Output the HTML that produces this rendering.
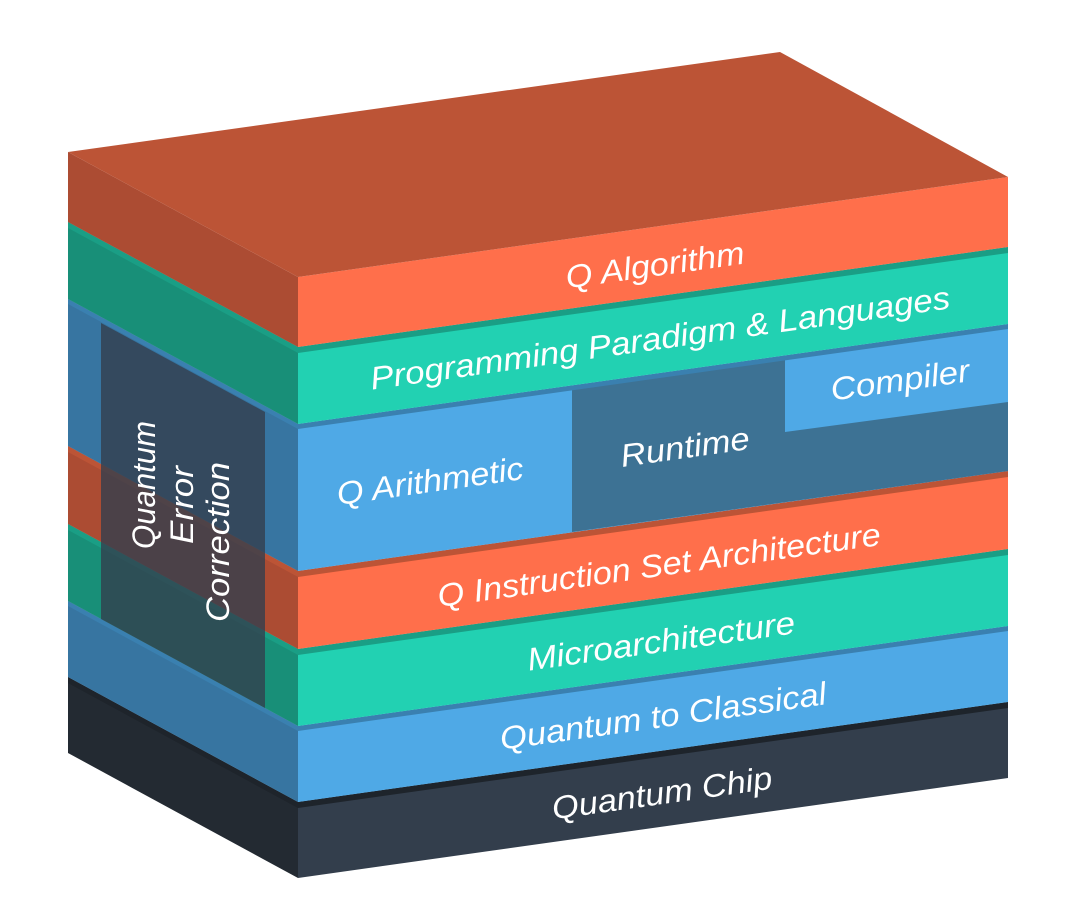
<!DOCTYPE html>
<html><head><meta charset="utf-8"><style>
html,body{margin:0;padding:0;background:#fff;}
svg{display:block;}
text{font-family:"Liberation Sans",sans-serif;font-style:italic;fill:#fff;font-size:32px;}
</style></head><body>
<svg width="1073" height="918" viewBox="0 0 1073 918" xmlns="http://www.w3.org/2000/svg">
<!-- Chip -->
<polygon points="68,677 298,802 298,878 68,753" fill="#232A32"/>
<polygon points="298,802 1008,702 1008,778 298,878" fill="#333E4C"/>
<polygon points="68,677 298,802 1008,702 1008,708 298,808 68,683" fill="#1E242B"/>
<!-- Q2C -->
<polygon points="68,601 298,726 298,802 68,677" fill="#3775A1"/>
<polygon points="298,726 1008,626 1008,702 298,802" fill="#4FA9E6"/>
<polygon points="68,601 298,726 1008,626 1008,631 298,731 68,606" fill="#3A80B0"/>
<!-- Micro -->
<polygon points="68,524 298,649 298,726 68,601" fill="#188F78"/>
<polygon points="298,649 1008,549 1008,626 298,726" fill="#22D1B2"/>
<polygon points="68,524 298,649 1008,549 1008,555 298,655 68,530" fill="#1A9E85"/>
<!-- ISA -->
<polygon points="68,446 298,571 298,649 68,524" fill="#AC4C33"/>
<polygon points="298,571 1008,471 1008,549 298,649" fill="#FF6F4B"/>
<polygon points="68,446 298,571 1008,471 1008,477 298,577 68,452" fill="#BC5436"/>
<!-- Blue middle -->
<polygon points="68,299 298,424 298,571 68,446" fill="#3775A1"/>
<polygon points="298,424 1008,324 1008,471 298,571" fill="#4FA9E6"/>
<polygon points="572,390 785,360 785,432 1008,402 1008,471 572,532" fill="#3D7294"/>
<polygon points="68,299 298,424 1008,324 1008,329 298,429 68,304" fill="#3A80B0"/>
<!-- Prog -->
<polygon points="68,222 298,347 298,424 68,299" fill="#188F78"/>
<polygon points="298,347 1008,247 1008,324 298,424" fill="#22D1B2"/>
<polygon points="68,222 298,347 1008,247 1008,253 298,353 68,228" fill="#1A9E85"/>
<!-- Algo -->
<polygon points="68,152 298,277 298,347 68,222" fill="#AC4C33"/>
<polygon points="298,277 1008,177 1008,247 298,347" fill="#FF6F4B"/>
<polygon points="68,152 780,52 1008,177 298,277" fill="#BC5436"/>
<!-- QEC overlay -->
<polygon points="101,323 265,412 265,708 101,619" fill="#333F4D" fill-opacity="0.8"/>
<g transform="rotate(-90)">
<text x="-485" y="155" text-anchor="middle" textLength="128" lengthAdjust="spacingAndGlyphs">Quantum</text>
<text x="-505" y="193" text-anchor="middle" textLength="78" lengthAdjust="spacingAndGlyphs">Error</text>
<text x="-542" y="229" text-anchor="middle" textLength="160" lengthAdjust="spacingAndGlyphs">Correction</text>
</g>
<!-- labels -->
<g transform="translate(655,265) rotate(-8)"><text x="0" y="11" text-anchor="middle" textLength="180" lengthAdjust="spacingAndGlyphs">Q Algorithm</text></g>
<g transform="translate(660,338) rotate(-8)"><text x="0" y="11" text-anchor="middle" textLength="585" lengthAdjust="spacingAndGlyphs">Programming Paradigm &amp; Languages</text></g>
<g transform="translate(430,481) rotate(-8)"><text x="0" y="11" text-anchor="middle" textLength="188" lengthAdjust="spacingAndGlyphs">Q Arithmetic</text></g>
<g transform="translate(685,447) rotate(-8)"><text x="0" y="11" text-anchor="middle" textLength="130" lengthAdjust="spacingAndGlyphs">Runtime</text></g>
<g transform="translate(900,380) rotate(-8)"><text x="0" y="11" text-anchor="middle" textLength="140" lengthAdjust="spacingAndGlyphs">Compiler</text></g>
<g transform="translate(659,565) rotate(-8)"><text x="0" y="11" text-anchor="middle" textLength="447" lengthAdjust="spacingAndGlyphs">Q Instruction Set Architecture</text></g>
<g transform="translate(661,641) rotate(-8)"><text x="0" y="11" text-anchor="middle" textLength="270" lengthAdjust="spacingAndGlyphs">Microarchitecture</text></g>
<g transform="translate(663,716) rotate(-8)"><text x="0" y="11" text-anchor="middle" textLength="329" lengthAdjust="spacingAndGlyphs">Quantum to Classical</text></g>
<g transform="translate(662,793) rotate(-8)"><text x="0" y="11" text-anchor="middle" textLength="222" lengthAdjust="spacingAndGlyphs">Quantum Chip</text></g>
</svg>
</body></html>
